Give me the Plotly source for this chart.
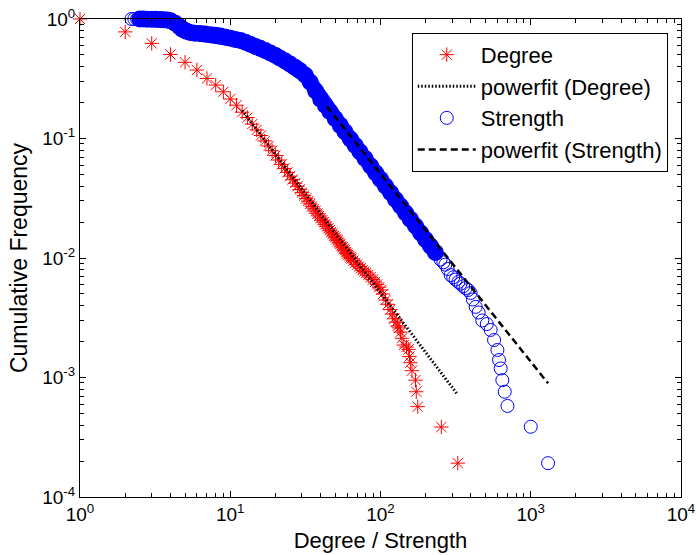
import plotly.graph_objects as go

# ---------------- data ----------------
deg_k = [1, 2, 3, 4, 5, 6, 7, 8, 9, 10, 11, 12, 13, 14, 15, 16, 17, 18, 19, 20,
         21, 22, 23, 24, 25, 26, 27, 28, 29, 30, 31, 32, 33, 34, 35, 36, 37, 38, 39, 40,
         41, 42, 43, 44, 45, 46, 47, 48, 49, 50, 51, 52, 53, 54, 55, 56, 57, 58, 59, 60,
         61, 62, 63, 64, 66, 68, 70, 72, 74, 76, 78, 80, 83, 86, 89, 92, 95, 98, 101, 104,
         108, 112, 116, 120, 123, 127, 130, 133, 136, 139, 143, 149, 154, 156, 158, 162,
         171, 173, 177, 254, 327]
deg_p = [1.0, 0.78, 0.625, 0.505, 0.434, 0.374, 0.318, 0.28, 0.246, 0.214, 0.19, 0.166,
         0.15, 0.132, 0.118, 0.106, 0.0955, 0.0865, 0.079, 0.072, 0.066, 0.0607, 0.0562,
         0.0521, 0.0484, 0.0453, 0.0423, 0.0398, 0.0374, 0.0353, 0.0333, 0.0315, 0.0299, 0.0284,
         0.027, 0.0258, 0.0247, 0.0235, 0.0225, 0.0216, 0.0207, 0.020, 0.0191, 0.0184, 0.0177,
         0.0171, 0.0165, 0.0159, 0.0153, 0.0149, 0.0144, 0.014, 0.0135, 0.0131, 0.0126, 0.0123,
         0.0119, 0.0116, 0.0112, 0.0109, 0.0106, 0.0104, 0.0101, 0.0099, 0.0095, 0.0091, 0.0088,
         0.0085, 0.0082, 0.0079, 0.0077, 0.0075, 0.0072, 0.0069, 0.0066, 0.0063, 0.0060, 0.0057,
         0.0054, 0.0050, 0.00445, 0.0041, 0.0037, 0.0034, 0.0031, 0.0029, 0.0027, 0.0026, 0.0024,
         0.00213, 0.00187, 0.0018, 0.00172, 0.0015, 0.00133, 0.00114, 0.00095, 0.00076, 0.00057,
         0.000385, 0.000192]

str_s = [2.2, 2.3, 2.4, 2.5, 2.65, 2.8, 3.0, 3.2, 3.4, 3.6, 3.8, 4.0, 4.3, 4.6, 4.8, 5.1,
         5.4, 5.8, 6.3, 6.8, 7.4, 8.0, 8.6, 9.3, 10, 10.8, 11.7, 12.6, 13.6, 14.7, 15.8, 17.1,
         18.5, 20, 21.5, 23.2, 25, 27, 29, 31.5, 34, 37, 40, 43, 46, 50, 54, 58, 63, 68, 73,
         79, 86, 93, 100, 108, 117, 126, 136, 147, 158, 171, 185, 200, 215, 232, 251,
         262, 270, 280, 293, 305, 316, 330, 341, 355, 368, 383, 398, 412, 430, 450, 476, 510,
         541, 570, 600, 615, 631, 647, 671, 700, 1000, 1304]
str_p = [1.0, 1.0, 1.0, 0.999, 0.998, 0.997, 0.995, 0.993, 0.99, 0.987, 0.98, 0.965, 0.92,
         0.86, 0.82, 0.79, 0.77, 0.76, 0.755, 0.75, 0.74, 0.73, 0.72, 0.705, 0.69, 0.675, 0.66,
         0.64, 0.615, 0.59, 0.57, 0.545, 0.52, 0.495, 0.47, 0.445, 0.42, 0.395, 0.37, 0.34,
         0.297, 0.25, 0.213, 0.189, 0.168, 0.1465, 0.1288, 0.114, 0.099, 0.0872, 0.0774, 0.0679,
         0.0588, 0.0515, 0.0456, 0.0401, 0.0351, 0.0309, 0.0272, 0.0238, 0.0211, 0.0185, 0.0162,
         0.0142, 0.0126, 0.0111, 0.0097,
         0.0092, 0.0088, 0.0081, 0.0072, 0.0069, 0.0066, 0.0063, 0.0061, 0.0058, 0.0056, 0.0054,
         0.0051, 0.0045, 0.0039, 0.0035, 0.0030, 0.0028, 0.0025, 0.00206, 0.0017, 0.0014,
         0.00119, 0.00095, 0.00076, 0.000578, 0.000387, 0.000192]

# power-law fits (end points)
fit_deg_x = [12, 326]
fit_deg_y = [0.172, 0.00072]
fit_str_x = [44, 1304]
fit_str_y = [0.185, 0.000894]

x_tickvals = [1, 10, 100, 1000, 10000]
x_ticktext = ["10<sup>0</sup>", "10<sup>1</sup>", "10<sup>2</sup>", "10<sup>3</sup>", "10<sup>4</sup>"]
y_tickvals = [1e-4, 1e-3, 1e-2, 1e-1, 1]
y_ticktext = ["10<sup>-4</sup>", "10<sup>-3</sup>", "10<sup>-2</sup>", "10<sup>-1</sup>", "10<sup>0</sup>"]

names = ["Degree", "powerfit (Degree)", "Strength", "powerfit (Strength)"]

# dense part of the strength series (where the circles merge into a solid band)
n_band = str_s.index(232) + 1
band_s = str_s[3:n_band]
band_p = str_p[3:n_band]

minor_x = [m * 10 ** e for e in range(0, 4) for m in range(2, 10)]
minor_y = [m * 10.0 ** e for e in range(-4, 0) for m in range(2, 10)]

FONT = "Liberation Sans, Arial, Helvetica, sans-serif"

fig = go.Figure()
fig.add_trace(go.Scatter(
    x=deg_k, y=deg_p, mode="markers", name=names[0], legendgroup="a", cliponaxis=False,
    marker=dict(symbol="asterisk-open", size=12, color="red", line=dict(color="red", width=1)),
))
fig.add_trace(go.Scatter(
    x=fit_deg_x, y=fit_deg_y, mode="lines", name=names[1], legendgroup="b",
    line=dict(color="black", width=3, dash="1.5px,2px"),
))
# overlapping circles of the dense part drawn as a solid band
fig.add_trace(go.Scatter(
    x=band_s, y=band_p, mode="lines+markers", showlegend=False, hoverinfo="skip",
    cliponaxis=False,
    line=dict(color="blue", width=15),
    marker=dict(symbol="circle", size=17, color="blue", line=dict(width=0)),
))
fig.add_trace(go.Scatter(
    x=str_s, y=str_p, mode="markers", name=names[2], legendgroup="c", cliponaxis=False,
    marker=dict(symbol="circle-open", size=13, color="blue", line=dict(color="blue", width=1)),
))
fig.add_trace(go.Scatter(
    x=fit_str_x, y=fit_str_y, mode="lines", name=names[3], legendgroup="d",
    line=dict(color="black", width=2.5, dash="7px,4px"),
))

axis_common = dict(
    type="log", showline=True, linecolor="black", linewidth=1, mirror="ticks",
    ticks="inside", ticklen=6, tickcolor="black", showgrid=False, zeroline=False,
    automargin=False,
    tickfont=dict(family=FONT, size=19, color="black"),
)

fig.update_layout(
    width=696, height=555,
    margin=dict(l=80, r=15, t=19, b=58),
    paper_bgcolor="white", plot_bgcolor="white",
    font=dict(family=FONT, color="black"),
    xaxis=dict(
        range=[0, 4], tickmode="array", tickvals=x_tickvals, ticktext=x_ticktext,
        title=dict(text="Degree / Strength", standoff=8,
                   font=dict(family=FONT, size=22, color="black")),
        minor=dict(ticks="inside", ticklen=4, tickcolor="black", tickmode="array", tickvals=minor_x),
        **axis_common,
    ),
    yaxis=dict(
        range=[-4, 0], tickmode="array", tickvals=y_tickvals, ticktext=y_ticktext,
        title=dict(text="Cumulative Frequency", standoff=8,
                   font=dict(family=FONT, size=23, color="black")),
        minor=dict(ticks="inside", ticklen=4, tickcolor="black", tickmode="array", tickvals=minor_y),
        **axis_common,
    ),
    legend=dict(
        x=0.552, y=0.971, xanchor="left", yanchor="top",
        bgcolor="white", bordercolor="black", borderwidth=1,
        font=dict(family=FONT, size=22, color="black"),
        itemwidth=58, tracegroupgap=2, traceorder="normal",
    ),
    showlegend=True,
)

fig.write_html("out.html")
